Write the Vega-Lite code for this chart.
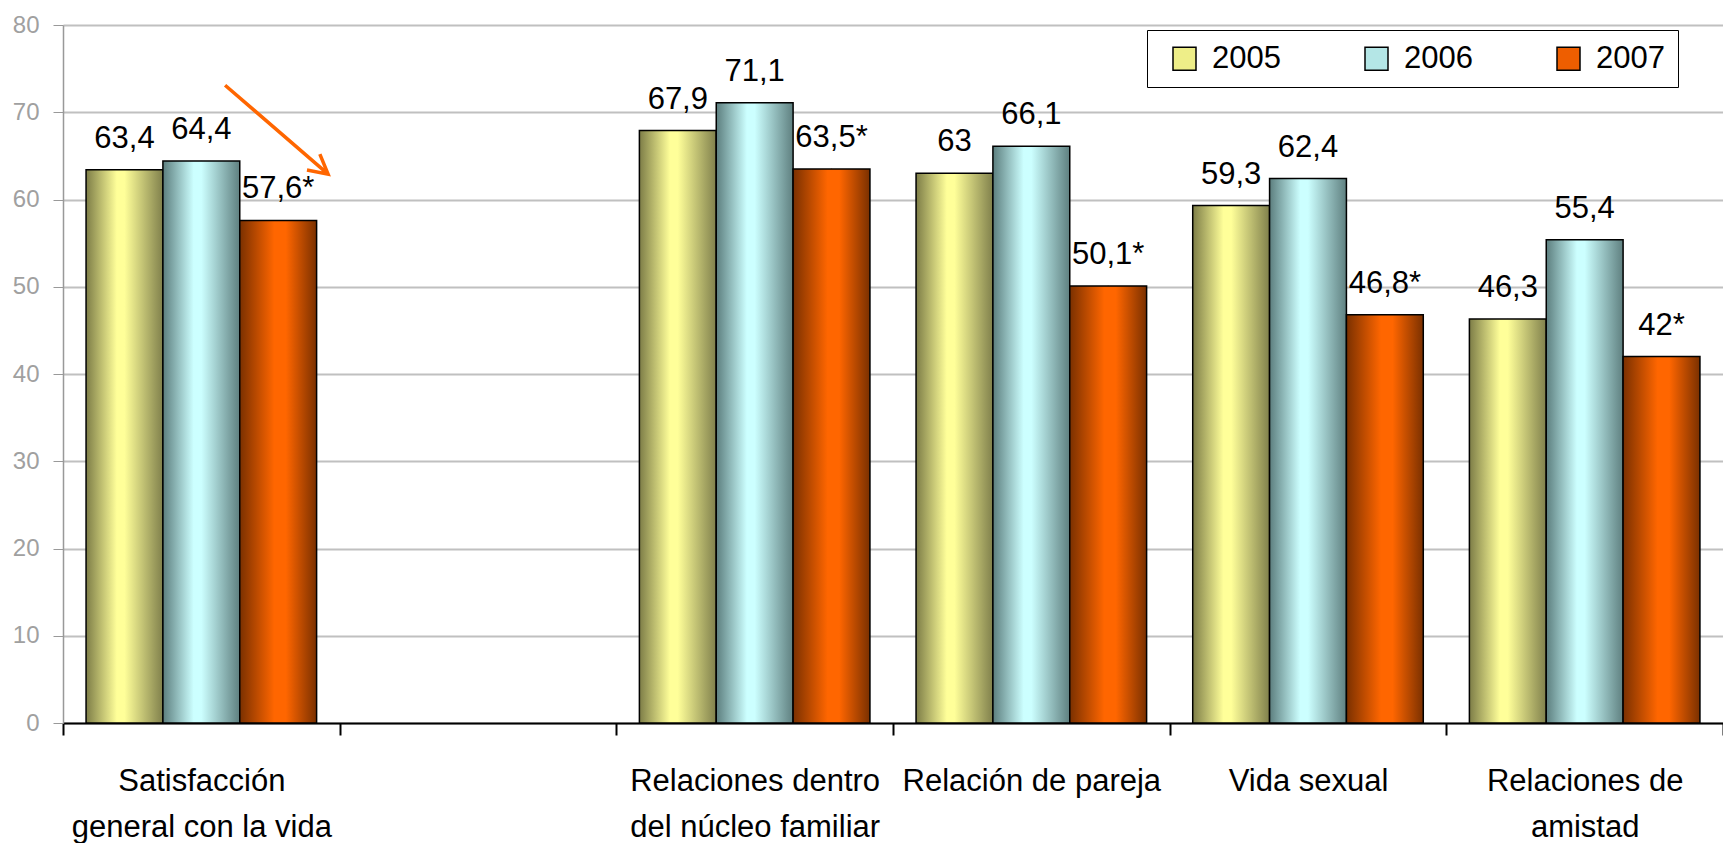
{
  "$schema": "https://vega.github.io/schema/vega-lite/v6.json",
  "width": 1660,
  "height": 698,
  "autosize": {"type": "none"},
  "padding": {"left": 63, "top": 25, "right": 0, "bottom": 120},
  "background": "white",
  "config": {
    "view": {"stroke": null},
    "font": "Liberation Sans, Arial, sans-serif"
  },
  "data": {
    "values": [
      {"cat": "Satisfacción general con la vida", "year": "2005", "value": 63.4, "label": "63,4"},
      {"cat": "Satisfacción general con la vida", "year": "2006", "value": 64.4, "label": "64,4"},
      {"cat": "Satisfacción general con la vida", "year": "2007", "value": 57.6, "label": "57,6*"},
      {"cat": "Relaciones dentro del núcleo familiar", "year": "2005", "value": 67.9, "label": "67,9"},
      {"cat": "Relaciones dentro del núcleo familiar", "year": "2006", "value": 71.1, "label": "71,1"},
      {"cat": "Relaciones dentro del núcleo familiar", "year": "2007", "value": 63.5, "label": "63,5*"},
      {"cat": "Relación de pareja", "year": "2005", "value": 63.0, "label": "63"},
      {"cat": "Relación de pareja", "year": "2006", "value": 66.1, "label": "66,1"},
      {"cat": "Relación de pareja", "year": "2007", "value": 50.1, "label": "50,1*"},
      {"cat": "Vida sexual", "year": "2005", "value": 59.3, "label": "59,3"},
      {"cat": "Vida sexual", "year": "2006", "value": 62.4, "label": "62,4"},
      {"cat": "Vida sexual", "year": "2007", "value": 46.8, "label": "46,8*"},
      {"cat": "Relaciones de amistad", "year": "2005", "value": 46.3, "label": "46,3"},
      {"cat": "Relaciones de amistad", "year": "2006", "value": 55.4, "label": "55,4"},
      {"cat": "Relaciones de amistad", "year": "2007", "value": 42.0, "label": "42*"}
    ]
  },
  "encoding": {
    "x": {
      "field": "cat", "type": "nominal",
      "scale": {
        "domain": ["Satisfacción general con la vida", " ", "Relaciones dentro del núcleo familiar", "Relación de pareja", "Vida sexual", "Relaciones de amistad"],
        "paddingInner": 0, "paddingOuter": 0
      },
      "axis": {
        "title": null,
        "labelAngle": 0,
        "tickBand": "extent",
        "domainColor": "black",
        "domainWidth": 2,
        "tickColor": "black",
        "tickWidth": 2,
        "tickSize": 12,
        "labelFontSize": 31,
        "labelColor": "black",
        "labelPadding": 31,
        "labelLineHeight": 46,
        "labelLimit": 400,
        "labelExpr": "datum.value == 'Satisfacción general con la vida' ? ['Satisfacción', 'general con la vida'] : datum.value == 'Relaciones dentro del núcleo familiar' ? ['Relaciones dentro', 'del núcleo familiar'] : datum.value == 'Relaciones de amistad' ? ['Relaciones de', 'amistad'] : datum.value"
      }
    },
    "y": {
      "field": "value", "type": "quantitative",
      "scale": {"domain": [0, 80], "nice": false},
      "axis": {
        "title": null,
        "values": [0, 10, 20, 30, 40, 50, 60, 70, 80],
        "grid": true,
        "gridColor": "#c0c0c0",
        "gridWidth": 2,
        "domainColor": "#999999",
        "domainWidth": 1.5,
        "tickColor": "#999999",
        "tickSize": 10,
        "labelColor": "#a0a0a0",
        "labelFontSize": 24,
        "labelPadding": 14
      }
    }
  },
  "layer": [
    {
      "mark": {"type": "point", "filled": true, "shape": "square", "size": 1},
      "encoding": {
        "xOffset": {"field": "year", "type": "nominal", "scale": {"domain": ["2005", "2006", "2007"], "paddingInner": 0, "paddingOuter": 0.3}},
        "color": {
          "field": "year", "type": "nominal",
          "scale": {"domain": ["2005", "2006", "2007"], "range": ["#eeee88", "#b4e6e6", "#ee5e00"]},
          "legend": {
            "orient": "none",
            "legendX": 1084,
            "legendY": 5,
            "direction": "horizontal",
            "title": "\u00a0\u00a0\u00a0",
            "titleOrient": "left",
            "titleFontSize": 31,
            "titlePadding": 9,
            "padding": 13,
            "strokeColor": "black",
            "fillColor": "white",
            "symbolType": "square",
            "symbolSize": 529,
            "symbolStrokeColor": "black",
            "symbolStrokeWidth": 1.5,
            "symbolOpacity": 1,
            "labelFontSize": 31,
            "labelColor": "black",
            "labelOffset": 12,
            "columnPadding": 80
          }
        }
      }
    },
    {
      "transform": [{"filter": "datum.year == '2005'"}],
      "mark": {"type": "bar", "stroke": "black", "strokeWidth": 1.5,
        "fill": {"gradient": "linear", "x1": 0, "y1": 0, "x2": 1, "y2": 0, "stops": [{"offset": 0, "color": "#7d7d47"}, {"offset": 0.4, "color": "#ffff99"}, {"offset": 0.5, "color": "#ffff99"}, {"offset": 1, "color": "#80804c"}]}},
      "encoding": {
        "xOffset": {"field": "year", "type": "nominal"}
      }
    },
    {
      "transform": [{"filter": "datum.year == '2006'"}],
      "mark": {"type": "bar", "stroke": "black", "strokeWidth": 1.5,
        "fill": {"gradient": "linear", "x1": 0, "y1": 0, "x2": 1, "y2": 0, "stops": [{"offset": 0, "color": "#5c7e7e"}, {"offset": 0.4, "color": "#ccffff"}, {"offset": 0.5, "color": "#ccffff"}, {"offset": 1, "color": "#5f8080"}]}},
      "encoding": {
        "xOffset": {"field": "year", "type": "nominal"}
      }
    },
    {
      "transform": [{"filter": "datum.year == '2007'"}],
      "mark": {"type": "bar", "stroke": "black", "strokeWidth": 1.5,
        "fill": {"gradient": "linear", "x1": 0, "y1": 0, "x2": 1, "y2": 0, "stops": [{"offset": 0, "color": "#7a3000"}, {"offset": 0.45, "color": "#ff6600"}, {"offset": 0.6, "color": "#ff6600"}, {"offset": 1, "color": "#7a3000"}]}},
      "encoding": {
        "xOffset": {"field": "year", "type": "nominal"}
      }
    },
    {
      "mark": {"type": "text", "fontSize": 31, "baseline": "alphabetic", "dy": -22, "color": "black"},
      "encoding": {
        "xOffset": {"field": "year", "type": "nominal"},
        "text": {"field": "label"}
      }
    },
    {
      "data": {"values": [{"cat": "Satisfacción general con la vida", "value": 68.0}]},
      "mark": {
        "type": "point",
        "shape": "M-1,-0.864L1,0.864M0.59,0.784L1,0.864L0.84,0.474",
        "filled": false,
        "stroke": "#ff6600",
        "strokeWidth": 3.5,
        "opacity": 1,
        "size": 10609
      },
      "encoding": {
        "x": {"field": "cat", "type": "nominal", "bandPosition": 0.772}
      }
    }
  ]
}
